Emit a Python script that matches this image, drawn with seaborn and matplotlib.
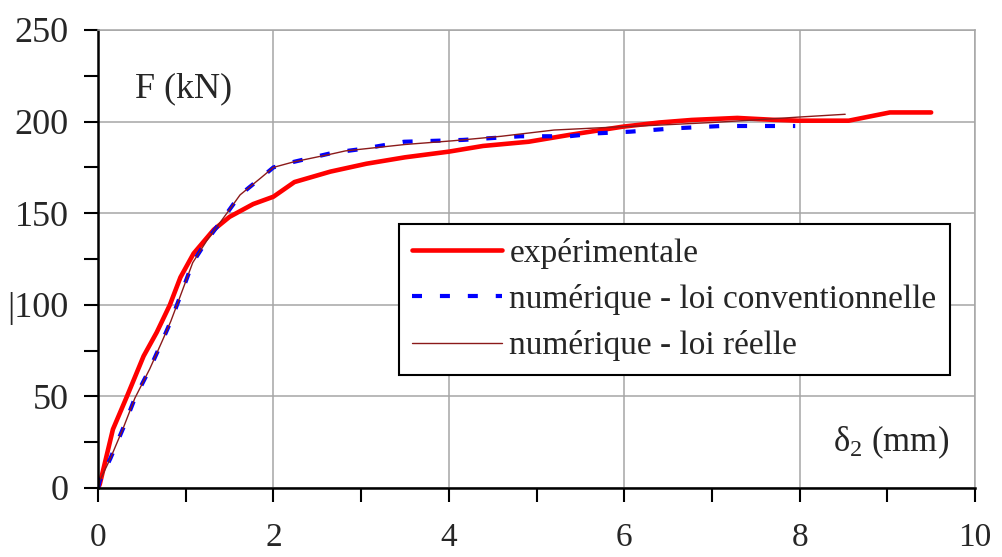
import matplotlib
matplotlib.use("Agg")
import matplotlib.pyplot as plt
from matplotlib.ticker import MultipleLocator, FixedLocator, FixedFormatter
import seaborn as sns
import pandas as pd

# Courbe expérimentale
x_exp = [0.0, 0.02, 0.17, 0.33, 0.52, 0.67, 0.82, 0.94, 1.09, 1.32, 1.5, 1.77, 2.0, 2.24,
         2.65, 3.06, 3.5, 4.0, 4.39, 4.91, 5.37, 5.98, 6.4, 6.77, 7.29, 7.69, 7.98, 8.56,
         9.03, 9.5]
F_exp = [0.0, 2, 32, 50, 72, 85, 100, 115, 128, 141, 148, 155, 159, 167,
         172.7, 177, 180.5, 183.6, 186.7, 189, 192.7, 197.2, 199.5, 200.9, 202, 201, 200.5, 200.5,
         205, 205]

# Modèle numérique - loi conventionnelle
x_conv = [0.0, 0.02, 0.14, 0.29, 0.42, 0.59, 0.73, 0.83, 0.94, 1.08, 1.24, 1.47, 1.62, 1.85,
          2.0, 2.23, 2.68, 3.0, 3.49, 4.16, 4.82, 5.37, 5.69, 6.07, 6.56, 7.11, 7.95]
F_conv = [0.0, 4, 16, 33, 49, 65, 80, 91, 105, 123, 135, 150, 160, 169,
          175, 178, 183, 185, 189, 190, 192, 192, 193.6, 194.5, 196.3, 197.6, 197.6]

# Modèle numérique - loi réelle
x_reel = [0.0, 0.02, 0.14, 0.29, 0.42, 0.59, 0.73, 0.83, 0.94, 1.08, 1.24, 1.47, 1.62, 1.85,
          2.0, 2.23, 2.68, 2.82, 3.5, 4.04, 4.6, 5.2, 5.8, 6.36, 7.0, 7.52, 8.0, 8.52]
F_reel = [0.0, 4, 16, 33, 49, 65, 80, 91, 105, 123, 135, 150, 160, 169,
          175, 178, 182.5, 184, 187.5, 189.5, 192, 195.4, 196.8, 198, 199.5, 201, 202.5, 204]

labels = ["expérimentale", "numérique - loi conventionnelle", "numérique - loi réelle"]

sns.set_theme(style="white")
plt.rcParams["font.family"] = ["Liberation Serif", "DejaVu Serif"]
plt.rcParams["mathtext.fontset"] = "custom"
plt.rcParams["mathtext.rm"] = "Liberation Serif"

fig = plt.figure(figsize=(10.02, 5.57), dpi=100)
ax = fig.add_axes([98 / 1002, 1 - 488 / 557, 877 / 1002, 458 / 557])

grid_c = "#a6a6a6"
ax.set_xlim(0, 10)
ax.set_ylim(0, 250)
ax.xaxis.set_major_locator(MultipleLocator(2))
ax.xaxis.set_minor_locator(MultipleLocator(1))
ax.yaxis.set_major_locator(FixedLocator([0, 50, 100, 150, 200, 250]))
ax.yaxis.set_minor_locator(MultipleLocator(25))
ax.grid(True, which="major", color=grid_c, linewidth=1.1)
ax.set_axisbelow(True)

df_exp = pd.DataFrame({"x": x_exp, "F": F_exp})
df_conv = pd.DataFrame({"x": x_conv, "F": F_conv})
df_reel = pd.DataFrame({"x": x_reel, "F": F_reel})

sns.lineplot(data=df_exp, x="x", y="F", sort=False, ax=ax, color="#ff0000",
             linewidth=3.3, label=labels[0], solid_capstyle="round")
sns.lineplot(data=df_conv, x="x", y="F", sort=False, ax=ax, color="#0000ff",
             linewidth=3.0, label=labels[1])
ax.lines[-1].set_dashes((2.4, 4.3))
ax.lines[-1].set_dash_capstyle("butt")
sns.lineplot(data=df_reel, x="x", y="F", sort=False, ax=ax, color="#8b1a1a",
             linewidth=1.0, label=labels[2])

ax.set_xlabel("")
ax.set_ylabel("")

# Spines and ticks
for s in ["left", "bottom"]:
    ax.spines[s].set_color("black")
    ax.spines[s].set_linewidth(1.8)
for s in ["top", "right"]:
    ax.spines[s].set_color(grid_c)
    ax.spines[s].set_linewidth(1.1)

ax.tick_params(axis="y", which="both", direction="out", length=10, width=1.5,
               color="black", left=True, labelsize=26, pad=11)
ax.tick_params(axis="x", which="both", direction="out", length=10, width=1.5,
               color="black", bottom=True, labelsize=24, pad=15)
ax.yaxis.set_major_formatter(FixedFormatter(["0", "50", "|100", "150", "200", "250"]))

ax.text(0.42, 218, "F (kN)", fontsize=26, ha="left", va="center")
ax.text(8.38, 25, r"$\mathregular{\delta_2}$ (mm)", fontsize=25, ha="left", va="center")

leg = ax.legend(loc="upper left", bbox_to_anchor=(0.343, 0.576), fontsize=24,
                frameon=True, fancybox=False, framealpha=1, edgecolor="black",
                handlelength=2.7, handletextpad=0.22, borderpad=0.4,
                labelspacing=0.46, borderaxespad=0)
leg.get_frame().set_linewidth(1.5)

fig.savefig("out.png", dpi=100)
